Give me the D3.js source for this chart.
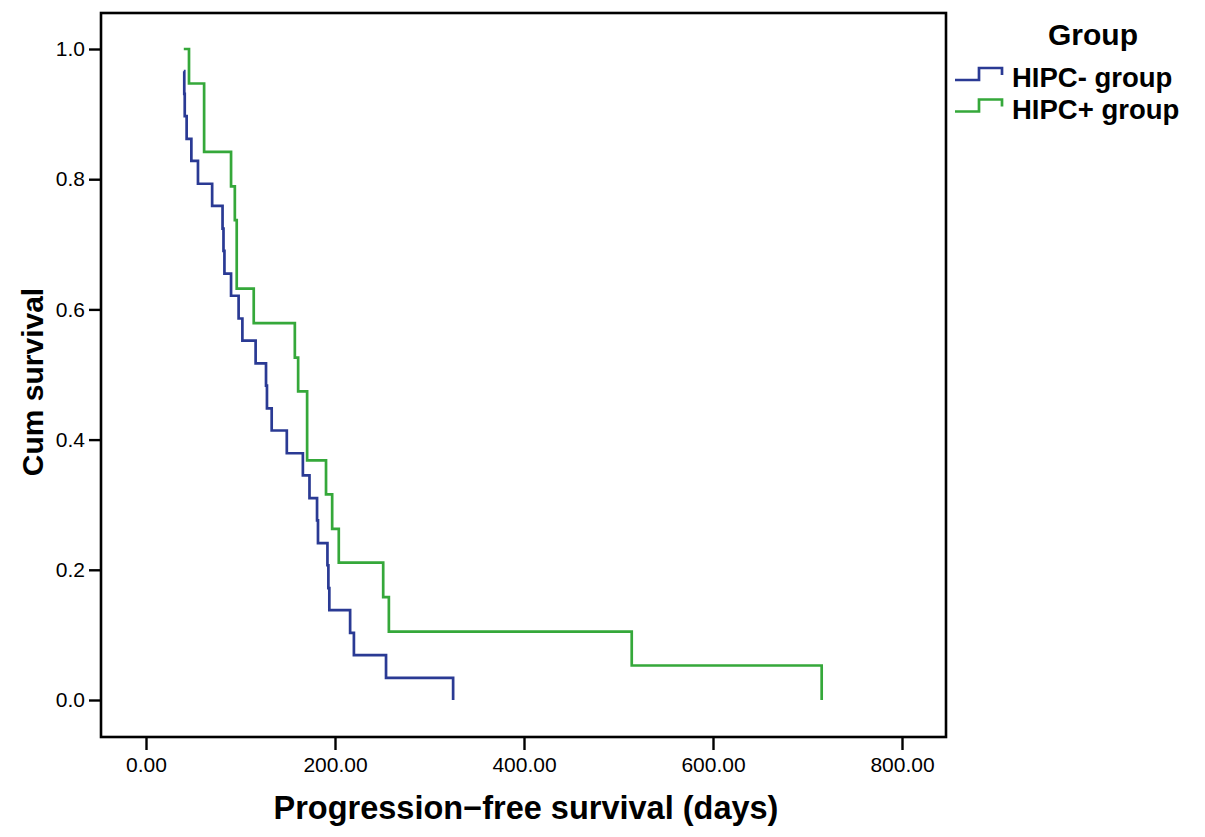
<!DOCTYPE html>
<html>
<head>
<meta charset="utf-8">
<script src="https://cdn.jsdelivr.net/npm/d3@7"></script>
<style>
  html, body { margin: 0; padding: 0; background: #fff; }
  svg { display: block; font-family: "Liberation Sans", Arial, sans-serif; }
</style>
</head>
<body>
<div id="chart"></div>
<script>
// Kaplan-Meier steps (days, cumulative survival after the step)
const groups = ["HIPC- group", "HIPC+ group"];
const colors = ["#2a3a94", "#35a83a"];

const blueTimes = [40, 40.5, 41, 43, 48, 55, 70, 81, 82, 83, 90, 98, 102, 116, 127, 128,
  133, 149, 166, 173, 181, 182, 192, 193, 194, 216, 220, 254, 325];
const blueSurv = [0.966, 0.931, 0.897, 0.862, 0.828, 0.793, 0.759, 0.724, 0.690, 0.655,
  0.621, 0.586, 0.552, 0.517, 0.483, 0.448, 0.414, 0.379, 0.345, 0.310, 0.276, 0.241,
  0.207, 0.172, 0.138, 0.103, 0.069, 0.034, 0];

const greenTimes = [40, 45.5, 61.5, 90, 94, 96, 114, 157.5, 161, 170.5, 190.5, 197, 204,
  251, 257, 514, 715];
const greenSurv = [1.0, 0.947, 0.842, 0.789, 0.737, 0.632, 0.579, 0.526, 0.474, 0.368,
  0.316, 0.263, 0.211, 0.158, 0.105, 0.053, 0];

const xTicks = [0, 200, 400, 600, 800];
const yTicks = [0, 0.2, 0.4, 0.6, 0.8, 1.0];

const width = 1205, height = 837;
const frame = { left: 101, top: 13, right: 946, bottom: 737 };

const svg = d3.select("#chart").append("svg")
  .attr("width", width)
  .attr("height", height);

svg.append("rect").attr("width", width).attr("height", height).attr("fill", "#fff");

const x = d3.scaleLinear().domain([0, 800]).range([146, 902]);
const y = d3.scaleLinear().domain([0, 1]).range([700, 49]);

// axes
const yAxis = svg.append("g")
  .attr("transform", `translate(${frame.left},0)`)
  .call(d3.axisLeft(y).tickValues(yTicks).tickFormat(d3.format(".1f")).tickSize(12).tickPadding(4));
const xAxis = svg.append("g")
  .attr("transform", `translate(0,${frame.bottom})`)
  .call(d3.axisBottom(x).tickValues(xTicks).tickFormat(d3.format(".2f")).tickSize(13).tickPadding(7));

[yAxis, xAxis].forEach(g => {
  g.select(".domain").remove();
  g.selectAll(".tick line").attr("stroke", "#000").attr("stroke-width", 2.4);
  g.selectAll(".tick text")
    .attr("fill", "#000")
    .style("font-size", "21px")
    .style("font-family", "'Liberation Sans', Arial, sans-serif");
});

svg.append("rect")
  .attr("x", frame.left).attr("y", frame.top)
  .attr("width", frame.right - frame.left)
  .attr("height", frame.bottom - frame.top)
  .attr("fill", "none")
  .attr("stroke", "#000")
  .attr("stroke-width", 2.6);

// survival curves
const line = d3.line()
  .x(d => x(d[0]))
  .y(d => y(d[1]))
  .curve(d3.curveStepAfter);

const series = [
  d3.zip(blueTimes, blueSurv),
  d3.zip(greenTimes, greenSurv)
];

svg.append("g")
  .selectAll("path")
  .data(series)
  .join("path")
  .attr("d", line)
  .attr("fill", "none")
  .attr("stroke", (d, i) => colors[i])
  .attr("stroke-width", 2.7)
  .attr("stroke-linejoin", "miter");

// axis titles
svg.append("text")
  .attr("x", 526)
  .attr("y", 819)
  .attr("text-anchor", "middle")
  .style("font-size", "32.5px")
  .style("font-weight", "bold")
  .text("Progression\u2212free survival (days)");

svg.append("text")
  .attr("transform", "translate(43,382) rotate(-90)")
  .attr("text-anchor", "middle")
  .style("font-size", "30px")
  .style("font-weight", "bold")
  .text("Cum survival");

// legend
const legend = svg.append("g");
legend.append("text")
  .attr("x", 1093)
  .attr("y", 45)
  .attr("text-anchor", "middle")
  .style("font-size", "30px")
  .style("font-weight", "bold")
  .text("Group");

const item = legend.selectAll("g.item")
  .data(groups)
  .join("g")
  .attr("class", "item")
  .attr("transform", (d, i) => `translate(0,${i * 31.5})`);

item.append("path")
  .attr("d", "M955,80 H979 V68 H1002 V75")
  .attr("fill", "none")
  .attr("stroke", (d, i) => colors[i])
  .attr("stroke-width", 2.7);

item.append("text")
  .attr("x", 1012)
  .attr("y", 87)
  .style("font-size", "27.5px")
  .style("font-weight", "bold")
  .text(d => d);
</script>
</body>
</html>
